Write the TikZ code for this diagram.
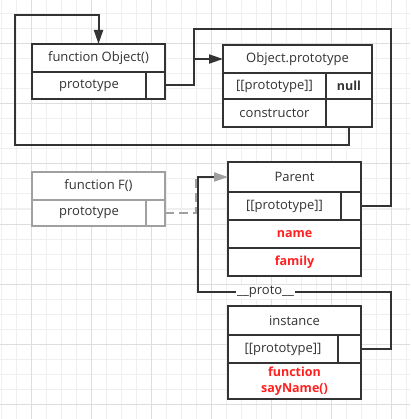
\documentclass[tikz,border=0pt]{standalone}
\usepackage{fontspec}
\setmainfont{Open Sans}
\usetikzlibrary{arrows.meta}
\definecolor{ink}{HTML}{333333}
\definecolor{soft}{HTML}{A0A0A0}
\definecolor{gridminor}{HTML}{EFEFEF}
\definecolor{gridmajor}{HTML}{DEDEDE}
\definecolor{hot}{HTML}{FF2020}
\tikzset{
  cell/.style={draw=ink, line width=2pt, fill=white, rectangle, inner sep=0pt, outer sep=0pt,
    text=ink, font=\fontsize{13}{15}\selectfont, align=center},
  softcell/.style={cell, draw=soft},
  redtext/.style={text=hot, font=\fontsize{12.5}{15}\selectfont\bfseries},
  conn/.style={draw=ink, line width=2pt},
  tip/.style={-{Triangle[length=14pt,width=9pt]}},
  graytip/.style={-{Triangle[length=14pt,width=9pt,color=soft]}},
}
\begin{document}
\begin{tikzpicture}[x=1pt,y=-1pt]
\useasboundingbox (0,0) rectangle (410,419);
% grid
\foreach \gx in {1,16,...,406} {\draw[gridminor, line width=1pt] (\gx,0) -- (\gx,419);}
\foreach \gy in {14,29,...,419} {\draw[gridminor, line width=1pt] (0,\gy) -- (410,\gy);}
\foreach \gx in {31,91,...,391} {\draw[gridmajor, line width=1pt] (\gx,0) -- (\gx,419);}
\foreach \gy in {44,104,...,404} {\draw[gridmajor, line width=1pt] (0,\gy) -- (410,\gy);}

% function Object()
\node[cell, minimum width=133pt, minimum height=28pt] (objH) at (98.5,58) {function Object()};
\node[cell, minimum width=114pt, minimum height=27pt] (objP) at (89,85.5) {prototype};
\node[cell, minimum width=19pt, minimum height=27pt] (objV) at (155.5,85.5) {};

% Object.prototype
\node[cell, minimum width=149pt, minimum height=28pt] (opH) at (297.5,59) {Object.prototype};
\node[cell, minimum width=103pt, minimum height=26pt] (opP) at (274.5,86) {[[prototype]]};
\node[cell, minimum width=46pt, minimum height=26pt, font=\fontsize{12.5}{15}\selectfont\bfseries] (opN) at (349,86) {null};
\node[cell, minimum width=103pt, minimum height=28pt] (opC) at (274.5,113) {constructor};
\node[cell, minimum width=46pt, minimum height=28pt] (opCV) at (349,113) {};

% function F()
\node[softcell, minimum width=133pt, minimum height=28pt] (fH) at (98.5,186) {function F()};
\node[softcell, minimum width=114pt, minimum height=26pt] (fP) at (89,213) {prototype};
\node[softcell, minimum width=19pt, minimum height=26pt] (fV) at (155.5,213) {};

% Parent
\node[cell, minimum width=133pt, minimum height=30pt] (pH) at (294.5,177) {Parent};
\node[cell, minimum width=113pt, minimum height=28pt] (pP) at (284.5,206) {[[prototype]]};
\node[cell, minimum width=20pt, minimum height=28pt] (pV) at (351,206) {};
\node[cell, redtext, minimum width=133pt, minimum height=28pt] (pName) at (294.5,234) {name};
\node[cell, redtext, minimum width=133pt, minimum height=28pt] (pFam) at (294.5,262) {family};

% instance
\node[cell, minimum width=133pt, minimum height=29pt] (iH) at (294.5,320.5) {instance};
\node[cell, minimum width=110pt, minimum height=28pt] (iP) at (283,349) {[[prototype]]};
\node[cell, minimum width=23pt, minimum height=28pt] (iV) at (349.5,349) {};
\node[cell, redtext, minimum width=133pt, minimum height=36pt, font=\fontsize{12.5}{16}\selectfont\bfseries] (iF) at (294.5,381) {function\\sayName()};

% helper coordinates
\coordinate (k1) at (15,145);
\coordinate (k2) at (15,15);
\coordinate (jn) at (194,59);
\coordinate (k3) at (391,29);
\coordinate (k5) at (391,292);
\coordinate (k6) at (198,292);
\coordinate (k7) at (196,178);

% connectors
\draw[conn, tip] (opCV.south) |- (k1) -- (k2) -| (objH.north);
\draw[conn] (pV.east) -| (k3) -| (jn);
\draw[conn, tip] (objV.east) -| (jn) -- (opH.west);
\draw[draw=soft, line width=2pt, dash pattern=on 9pt off 5pt] (fV.east) -| (k7);
\draw[conn, graytip] (iV.east) -| (k5) -- node[pos=0.65, fill=white, inner sep=1pt, text=ink, font=\fontsize{13}{15}\selectfont] (lbl) {\_\_proto\_\_} (k6) |- (pH.west);
\end{tikzpicture}
\end{document}
